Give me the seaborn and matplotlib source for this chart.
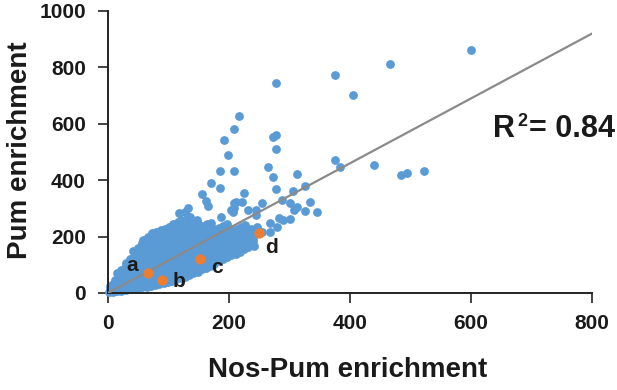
import matplotlib
matplotlib.use("Agg")
import matplotlib.pyplot as plt
import seaborn as sns
import pandas as pd

# ---------------- data ----------------
# dense cloud of genes near the origin: (Nos-Pum enrichment, Pum enrichment)
core_pts = [
    (2, 3), (4, 14), (3, 26), (6, 8),
    (9, 4), (10, 18), (8, 33), (11, 46),
    (15, 6), (16, 22), (14, 40), (17, 56), (15, 70),
    (22, 8), (23, 26), (21, 45), (24, 63), (22, 82),
    (29, 10), (30, 30), (28, 50), (31, 70), (29, 92), (30, 108),
    (36, 13), (37, 33), (35, 55), (38, 78), (36, 100), (37, 120),
    (43, 15), (44, 37), (42, 60), (45, 84), (43, 108), (44, 130), (42, 148),
    (50, 18), (51, 40), (49, 65), (52, 90), (50, 115), (51, 138), (49, 158),
    (57, 20), (58, 44), (56, 70), (59, 96), (57, 122), (58, 147), (56, 170), (58, 188),
    (64, 23), (65, 48), (63, 75), (66, 102), (64, 128), (65, 155), (63, 180), (66, 200),
    (71, 26), (72, 52), (70, 80), (73, 108), (71, 136), (72, 162), (70, 188), (72, 212),
    (78, 29), (79, 56), (77, 85), (80, 114), (78, 142), (79, 170), (77, 196), (80, 218),
    (85, 32), (86, 60), (84, 90), (87, 120), (85, 148), (86, 176), (84, 202), (87, 222),
    (92, 36), (93, 64), (91, 95), (94, 126), (92, 155), (93, 183), (91, 208), (94, 226),
    (99, 39), (100, 68), (98, 100), (101, 132), (99, 162), (100, 190), (98, 214), (101, 234),
    (106, 43), (107, 72), (105, 105), (108, 138), (106, 168), (107, 196), (105, 222), (108, 246),
    (113, 48), (114, 77), (112, 110), (115, 144), (113, 174), (114, 202), (112, 228), (116, 252),
    (120, 53), (121, 82), (119, 116), (122, 150), (120, 180), (121, 208), (119, 234), (121, 258),
    (127, 58), (128, 88), (126, 122), (129, 156), (127, 186), (128, 214), (126, 240),
    (134, 64), (135, 94), (133, 128), (136, 162), (134, 192), (135, 220), (133, 246), (136, 268),
    (141, 70), (142, 100), (140, 134), (143, 168), (141, 198), (142, 226), (140, 252),
    (148, 76), (149, 106), (147, 140), (150, 174), (148, 204), (149, 232), (147, 258),
    (155, 84), (156, 114), (154, 146), (157, 180), (155, 210), (156, 238),
    (162, 90), (163, 120), (161, 152), (164, 186), (162, 216), (163, 244),
    (169, 97), (170, 127), (168, 158), (171, 192), (169, 222), (170, 250),
    (176, 104), (177, 134), (175, 165), (178, 198), (176, 228),
    (183, 112), (184, 142), (182, 172), (185, 204), (183, 232),
    (190, 119), (191, 149), (189, 180), (192, 210), (190, 238),
    (197, 126), (198, 156), (196, 187), (199, 216), (197, 244),
    (204, 133), (205, 163), (203, 194), (206, 222),
    (211, 140), (212, 170), (210, 200), (213, 228),
    (218, 147), (219, 177), (217, 206), (220, 234),
    (225, 155), (226, 184), (224, 212), (227, 240),
    (232, 162), (233, 190), (231, 218),
    (239, 170), (240, 196), (238, 224),
]
# more genes packed between the rows of the dense cloud
core_fill = [
    (29, 20), (30, 40), (29, 60), (30, 81), (29, 100),
    (36, 23), (37, 44), (36, 66), (37, 89), (36, 110),
    (43, 26), (44, 48), (43, 72), (44, 96), (43, 119), (44, 139),
    (50, 29), (51, 52), (50, 77), (51, 102), (50, 126), (51, 148),
    (57, 32), (58, 57), (57, 83), (58, 109), (57, 134), (58, 158), (57, 179),
    (64, 35), (65, 61), (64, 88), (65, 115), (64, 141), (65, 167), (64, 190),
    (71, 39), (72, 66), (71, 94), (72, 122), (71, 149), (72, 175), (71, 200),
    (78, 42), (79, 70), (78, 99), (79, 128), (78, 156), (79, 183), (78, 207),
    (85, 46), (86, 75), (85, 105), (86, 134), (85, 162), (86, 189), (85, 212),
    (92, 50), (93, 80), (92, 110), (93, 140), (92, 169), (93, 195), (92, 217),
    (99, 53), (100, 84), (99, 116), (100, 147), (99, 176), (100, 202), (99, 224),
    (106, 57), (107, 88), (106, 121), (107, 153), (106, 182), (107, 209), (106, 234),
    (113, 62), (114, 93), (113, 127), (114, 159), (113, 188), (114, 215), (113, 240),
    (120, 67), (121, 99), (120, 133), (121, 165), (120, 194), (121, 221), (120, 246),
    (127, 73), (128, 105), (127, 139), (128, 171), (127, 200), (128, 227),
    (134, 79), (135, 111), (134, 145), (135, 177), (134, 206), (135, 233),
    (141, 85), (142, 117), (141, 151), (142, 183), (141, 212), (142, 239),
    (148, 91), (149, 123), (148, 157), (149, 189), (148, 218), (149, 245),
    (155, 99), (156, 130), (155, 163), (156, 195), (155, 224),
    (162, 105), (163, 136), (162, 169), (163, 201), (162, 230),
    (169, 112), (170, 142), (169, 175), (170, 207), (169, 236),
    (176, 119), (177, 149), (176, 181), (177, 213),
    (183, 127), (184, 157), (183, 188), (184, 218),
    (190, 134), (191, 164), (190, 195), (191, 224),
    (197, 141), (198, 171), (197, 201), (198, 230),
    (204, 148), (205, 178), (204, 208),
    (211, 155), (212, 185), (211, 214),
    (218, 162), (219, 191), (218, 220),
    (225, 170), (226, 198), (225, 226),
    (232, 176), (233, 204),
    (239, 183), (240, 210),
]
# scattered genes around and above the cloud
halo_pts = [
    (117, 285), (132, 302), (133, 270), (128, 288),
    (170, 391), (185, 374), (155, 350), (162, 326), (166, 308),
    (186, 270), (203, 295), (208, 320), (211, 322), (244, 295),
    (224, 356), (221, 324), (255, 320), (208, 302), (206, 288), (231, 295), (244, 278),
    (277, 370), (306, 363), (288, 331), (301, 320), (313, 306), (307, 296),
    (326, 381), (334, 324), (325, 292), (346, 288),
    (282, 267), (290, 260), (300, 263), (267, 249), (280, 235),
    (255, 217), (268, 217), (237, 228), (247, 235), (241, 167),
    (191, 544), (198, 491), (185, 431), (209, 580), (216, 628), (209, 434),
    (264, 448), (272, 552), (277, 559), (277, 509), (278, 744), (273, 413), (313, 423),
    (376, 772), (466, 811), (600, 860), (405, 701),
    (376, 473), (384, 448), (440, 455), (484, 420), (494, 427), (522, 434),
]
all_pts = core_pts + core_fill + halo_pts
nos_pum = [p[0] for p in all_pts]
pum = [p[1] for p in all_pts]

# highlighted genes
hl_labels = ["a", "b", "c", "d"]
hl_nos_pum = [66, 90, 152, 249]
hl_pum = [72, 46, 121, 212]

# linear trend (through origin) and its fit
trend_slope = 1.15
trend_intercept = 0.0
trend_x = [0, 800]
r_squared = 0.84

xticks = [0, 200, 400, 600, 800]
yticks = [0, 200, 400, 600, 800, 1000]

# ---------------- style ----------------
sns.set_theme(style="white")
plt.rcParams["font.family"] = ["Liberation Sans", "DejaVu Sans"]
plt.rcParams["font.weight"] = "bold"
ink = "#1a1a1a"
blue = "#5b9bd5"
orange = "#ed7d31"

W, H = 617, 390
ax_left, ax_right, ax_top, ax_bottom = 108, 592, 11, 293
fig = plt.figure(figsize=(W / 100, H / 100), dpi=100)
ax = fig.add_axes([ax_left / W, 1 - ax_bottom / H,
                   (ax_right - ax_left) / W, (ax_bottom - ax_top) / H])

df = pd.DataFrame({"x": nos_pum, "y": pum})
sns.scatterplot(data=df, x="x", y="y", ax=ax, color=blue, s=40,
                linewidth=0, alpha=1, clip_on=False, zorder=2)

trend_df = pd.DataFrame({"x": trend_x,
                         "y": [trend_intercept + trend_slope * v for v in trend_x]})
sns.lineplot(data=trend_df, x="x", y="y", ax=ax, color="#8a8a8a",
             linewidth=1.6, zorder=3)

hl_df = pd.DataFrame({"x": hl_nos_pum, "y": hl_pum, "lab": hl_labels})
sns.scatterplot(data=hl_df, x="x", y="y", ax=ax, color=orange, s=55,
                linewidth=0, clip_on=False, zorder=4)

offsets = {"a": (-11, 5), "b": (12, -1), "c": (12, -6), "d": (9, -10)}
for lab, xv, yv in zip(hl_labels, hl_nos_pum, hl_pum):
    ax.annotate(lab, (xv, yv), xytext=offsets[lab], textcoords="offset points",
                ha="center", va="center", fontsize=15, fontweight="bold",
                color=ink, zorder=5)

ax.set_xlim(0, 800)
ax.set_ylim(0, 1000)
ax.set_xticks(xticks)
ax.set_yticks(yticks)
ax.set_xticklabels([str(v) for v in xticks])
ax.set_yticklabels([str(v) for v in yticks])

for side in ["top", "right"]:
    ax.spines[side].set_visible(False)
for side in ["left", "bottom"]:
    ax.spines[side].set_color("#222222")
    ax.spines[side].set_linewidth(1.4)
ax.tick_params(axis="both", which="major", direction="out", length=7, width=1.2,
               color="#222222", labelsize=15, labelcolor=ink, bottom=True, left=True)
ax.tick_params(axis="y", pad=9)
ax.tick_params(axis="x", pad=8)
for t in ax.get_xticklabels() + ax.get_yticklabels():
    t.set_fontweight("bold")

ax.set_xlabel("Nos-Pum enrichment", fontsize=20, fontweight="bold", color=ink)
ax.set_ylabel("Pum enrichment", fontsize=20, fontweight="bold", color=ink)
ax.xaxis.set_label_coords((347.5 - ax_left) / (ax_right - ax_left),
                          (ax_bottom - 357) / (ax_bottom - ax_top))
ax.yaxis.set_label_coords((33 - ax_left) / (ax_right - ax_left),
                          (ax_bottom - 150) / (ax_bottom - ax_top))

# R^2 annotation
fig.text(493 / W, 1 - 137 / H, "R", fontsize=22, fontweight="bold", color=ink,
         ha="left", va="baseline")
fig.text(517 / W, 1 - 126 / H, str(2), fontsize=13, fontweight="bold", color=ink,
         ha="left", va="baseline")
fig.text(529 / W, 1 - 137 / H, f"= {r_squared:.2f}", fontsize=22,
         fontweight="bold", color=ink, ha="left", va="baseline")

fig.savefig("out.png", dpi=100)
